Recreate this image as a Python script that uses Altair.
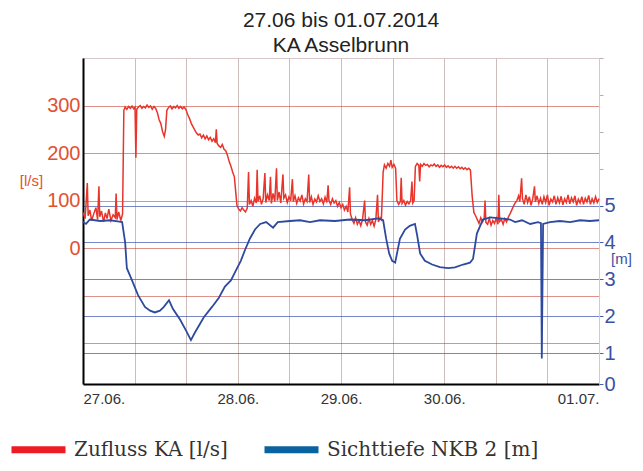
import altair as alt
import pandas as pd

title_lines = ["27.06 bis 01.07.2014", "KA Asselbrunn"]
series_names = ["Zufluss KA [l/s]", "Sichttiefe NKB 2 [m]"]
legend_colors = ["#ed1c24", "#0b62a0"]
red_color = "#e8342a"
blue_color = "#2d4a9e"

x_tick_hours = [0, 12, 24, 36, 48, 60, 72, 84, 96, 108, 120]
x_label_hours = [0, 36, 60, 84, 120]
x_label_text = ["27.06.", "28.06.", "29.06.", "30.06.", "01.07."]
left_ticks = [-200, -100, 0, 100, 200, 300]
right_ticks = [0.16, 1, 2, 3, 4, 5, 6, 7, 8, 9]

# Zufluss KA [l/s]  (hours since start, value)
red_hours = (
    [0, 0.5, 1.0, 1.2, 1.6, 2.0, 2.5, 3.0, 3.4, 3.7, 3.9, 4.3, 4.8, 5.2, 5.6, 6.0, 6.5, 7.0, 7.5, 7.7, 7.9, 8.3, 8.8, 9.2]
    + [9.5, 9.8, 10.2, 10.6, 11.0, 11.4, 11.8, 12.1, 12.3, 12.5, 12.9, 13.3, 13.7, 14.1, 14.5, 14.9, 15.3, 15.7, 16.1, 16.5, 16.9]
    + [17.3, 17.7, 18.1, 18.5, 18.9, 19.2, 19.5]
    + [19.9, 20.3, 20.7, 21.1, 21.5, 21.9, 22.3, 22.7, 23.1, 23.5, 23.9]
    + [24.4, 24.8, 25.2, 25.6, 26.0, 26.4, 26.8]
    + [27.2, 27.6, 28.0, 28.4, 28.8, 29.2, 29.6, 30.0, 30.4, 30.8, 31.0, 31.2]
    + [31.6, 32.0, 32.4, 32.8, 33.2]
    + [33.6, 34.0, 34.4, 34.8, 35.2, 35.5, 35.8]
    + [36.2, 36.6, 37.0, 37.4, 37.8, 38.2]
    + [38.5, 38.7, 39.1, 39.5, 39.9, 40.3, 40.5, 40.7, 41.1, 41.5, 41.9, 42.3, 42.5, 42.9, 43.3, 43.6, 43.8, 44.2, 44.6, 45.0, 45.2, 45.6]
    + [46.0, 46.5, 46.7, 47.1, 47.5, 47.9, 48.3, 48.7, 48.9, 49.3, 49.7, 50.1, 50.5, 50.9, 51.3, 51.7, 52.1, 52.5, 52.7, 53.1, 53.5, 53.9, 54.3, 54.7]
    + [55.1, 55.5, 55.9, 56.3, 56.7, 57.0, 57.2, 57.6, 58.0, 58.4, 58.8, 59.2, 59.6, 60.0, 60.4, 60.8, 61.2, 61.6, 62.0, 62.2]
    + [62.6, 63.0, 63.4, 63.8, 64.2, 64.6, 65.0, 65.5, 65.7, 66.1, 66.5, 66.9, 67.3, 67.7, 68.1, 68.5, 68.7, 69.1, 69.4]
    + [69.8, 70.1, 70.5, 70.9, 71.3, 71.6, 71.9, 72.3, 72.7]
    + [73.0, 73.4, 73.8, 74.0, 74.2, 74.6, 75.0, 75.4, 75.8, 76.2, 76.5, 76.7, 77.0]
    + [77.3, 77.7, 78.1, 78.3, 78.5, 78.9, 79.3, 79.7, 80.1, 80.5, 80.9, 81.3, 81.7, 82.1, 82.5, 82.9, 83.3, 83.7, 84.1, 84.5,
       84.9, 85.3, 85.7, 86.1, 86.5, 86.9, 87.3, 87.7, 88.1, 88.5, 88.9, 89.3, 89.7, 90.1]
    + [90.5, 90.9, 91.3]
    + [91.7, 92.1, 92.5, 92.9, 93.3, 93.5, 93.7, 94.1, 94.5, 94.9, 95.3, 95.7, 96.1, 96.5, 96.7, 96.9, 97.3, 97.7, 98.1, 98.5, 98.9]
    + [99.3, 99.7, 100.1, 100.5, 100.9, 101.3]
    + [101.6, 102.0, 102.2, 102.6, 103.0, 103.4, 103.8, 104.2, 104.6, 105.0, 105.2, 105.6, 106.0, 106.4, 106.8, 107.2,
       107.6, 108.0, 108.4, 108.8, 109.2, 109.6, 110.0, 110.4, 110.8, 111.2, 111.6, 112.0, 112.4, 112.8, 113.2, 113.6,
       114.0, 114.4, 114.8, 115.2, 115.6, 116.0, 116.4, 116.8, 117.2, 117.6, 118.0, 118.4, 118.8, 119.2, 119.6, 120.0]
)
red_flow = (
    [75, 62, 137, 68, 80, 58, 72, 85, 60, 130, 66, 78, 55, 74, 62, 82, 58, 70, 64, 115, 60, 76, 58, 72]
    + [290, 297, 292, 298, 294, 299, 293, 296, 190, 292, 297, 300, 294, 298, 295, 301, 296, 299, 292, 298, 294]
    + [285, 270, 262, 245, 235, 250, 290]
    + [296, 299, 293, 298, 295, 300, 294, 298, 293, 297, 292]
    + [280, 272, 262, 255, 248, 242, 238]
    + [240, 232, 238, 230, 236, 228, 233, 225, 230, 222, 250, 220]
    + [215, 212, 218, 208, 205]
    + [195, 182, 172, 160, 150, 120, 90]
    + [82, 78, 85, 80, 76, 84]
    + [160, 92, 100, 88, 105, 95, 165, 98, 110, 92, 104, 158, 96, 112, 100, 150, 94, 115, 98, 168, 100, 118]
    + [95, 155, 105, 112, 96, 108, 100, 145, 98, 110, 94, 106, 99, 112, 93, 104, 98, 155, 96, 108, 92, 103, 97, 110]
    + [98, 104, 93, 107, 96, 132, 100, 92, 104, 95, 100, 88, 96, 85, 92, 80, 88, 76, 128, 72]
    + [60, 52, 64, 50, 58, 47, 60, 100, 55, 48, 62, 50, 58, 46, 60, 112, 55, 64, 60]
    + [160, 175, 168, 178, 172, 185, 170, 176, 168]
    + [100, 92, 98, 148, 94, 100, 90, 98, 93, 100, 140, 95, 100]
    + [172, 178, 174, 140, 176, 172, 178, 174, 176, 171, 175, 173, 177, 172, 175, 170, 174, 171, 175, 170,
       173, 169, 172, 168, 172, 168, 171, 167, 170, 166, 169, 165, 168, 164]
    + [110, 75, 68]
    + [60, 52, 64, 55, 62, 100, 54, 50, 62, 48, 58, 52, 63, 50, 112, 56, 60, 50, 62, 55, 65]
    + [72, 80, 88, 95, 100, 110]
    + [98, 147, 104, 92, 112, 96, 108, 90, 104, 130, 97, 110, 94, 105, 92, 108,
       96, 112, 90, 103, 97, 110, 92, 106, 95, 109, 91, 104, 96, 112, 93, 106,
       97, 110, 90, 103, 95, 108, 92, 105, 97, 111, 92, 104, 95, 108, 96, 104]
)

# Sichttiefe NKB 2 [m]
blue_hours = [0, 0.7, 1.6, 4.0, 6.3, 8.1, 9.1, 9.8, 10.2, 11.4,
              12.8, 14.4, 15.6, 16.7, 17.9, 18.8, 20.0, 20.9, 22.6, 24.0,
              25.1, 26.0, 28.1, 30.0, 31.6, 33.0, 34.4, 35.6, 36.7, 37.7,
              38.8, 40.0, 41.2, 42.6, 44.2, 45.3, 48.1, 50.5, 52.8, 55.1,
              58.6, 62.1, 65.6, 68.6, 69.8, 70.5, 71.2, 71.9, 72.6, 73.7,
              74.9, 76.0, 77.2, 77.7, 78.4, 79.5, 81.2, 83.0, 84.9, 86.5,
              88.4, 90.0, 90.7, 91.6, 93.0, 94.7, 97.0, 99.3, 100.5, 102.1,
              104.0, 105.8, 106.5, 106.7, 107.0, 108.6, 110.9, 113.3, 115.6, 117.9,
              120]
blue_depth = [4.55, 4.5, 4.62, 4.58, 4.6, 4.57, 4.55, 4.0, 3.3, 2.97,
              2.57, 2.25, 2.15, 2.1, 2.15, 2.25, 2.43, 2.2, 1.9, 1.6,
              1.35, 1.55, 1.97, 2.25, 2.5, 2.8, 2.97, 3.25, 3.5, 3.8,
              4.1, 4.35, 4.5, 4.55, 4.4, 4.55, 4.58, 4.6, 4.55, 4.6,
              4.58, 4.62, 4.6, 4.65, 4.6, 4.1, 3.7, 3.5, 3.45, 4.1,
              4.35, 4.45, 4.5, 4.2, 3.7, 3.5, 3.4, 3.33, 3.3, 3.32,
              3.4, 3.45, 3.55, 4.24, 4.62, 4.68, 4.65, 4.62, 4.55, 4.6,
              4.5, 4.55, 4.52, 0.85, 4.5, 4.55, 4.58, 4.55, 4.6, 4.58,
              4.6]

red_df = pd.DataFrame({"h": red_hours, "v": red_flow})
blue_df = pd.DataFrame({"h": blue_hours, "v": blue_depth})
legend_df = pd.DataFrame({"series": series_names})

x_expr = " : ".join(
    f"datum.value == {h} ? '{t}'" for h, t in zip(x_label_hours, x_label_text)
) + " : ''"

x_enc = alt.X(
    "h:Q",
    scale=alt.Scale(domain=[0, 120], nice=False, zero=False),
    axis=alt.Axis(
        orient="bottom", values=x_tick_hours, labelExpr=x_expr, title=None,
        ticks=False, grid=True, gridColor="#cdbcbc", gridWidth=1,
        domainColor="#000000", domainWidth=2,
        labelFont="Liberation Sans", labelFontSize=15, labelColor="#333333",
        labelPadding=7, labelFlush=True,
    ),
)

red = alt.Chart(red_df).mark_line(color=red_color, strokeWidth=1.5).encode(
    x=x_enc,
    y=alt.Y(
        "v:Q",
        scale=alt.Scale(domain=[-286, 400], nice=False, zero=False),
        axis=alt.Axis(
            orient="left", values=left_ticks,
            labelExpr="datum.value < 0 ? '' : datum.label",
            title="[l/s]", titleAngle=0, titleX=-52, titleY=122,
            titleAlign="center", titleBaseline="middle",
            titleFont="Liberation Sans", titleFontSize=15, titleFontWeight="normal",
            titleColor="#e2512f",
            ticks=False, grid=True, gridColor="#c0392b", gridOpacity=0.55, gridWidth=1.2,
            domainColor="#000000", domainWidth=2,
            labelFont="Liberation Sans", labelFontSize=20, labelColor="#e2512f",
            labelPadding=3,
        ),
    ),
)

blue = alt.Chart(blue_df).mark_line(color=blue_color, strokeWidth=1.8).encode(
    x=alt.X("h:Q"),
    y=alt.Y(
        "v:Q",
        scale=alt.Scale(domain=[0.16, 9.0], nice=False, zero=False),
        axis=alt.Axis(
            orient="right", values=right_ticks,
            labelExpr="datum.value < 0.5 ? '0' : (datum.value > 5.5 ? '' : format(datum.value, 'd'))",
            title="[m]", titleAngle=0, titleX=22, titleY=200,
            titleAlign="center", titleBaseline="middle",
            titleFont="Liberation Sans", titleFontSize=15, titleFontWeight="normal",
            titleColor="#3b51a3",
            tickSize=4,
            tickColor={"condition": {"test": "datum.value > 5.5", "value": "#b8b0b0"}, "value": "#4a5db0"},
            grid=True, gridColor="#4a5db0", gridWidth=1.1,
            gridOpacity={"condition": {"test": "datum.value > 0.5 && datum.value < 5.5", "value": 0.75}, "value": 0},
            domainColor="#d6c8c8", domainWidth=1,
            labelFont="Liberation Sans", labelFontSize=20, labelColor="#3b51a3",
            labelPadding=1,
        ),
    ),
)

legend_layer = alt.Chart(legend_df).mark_point(opacity=0).encode(
    x=alt.value(0),
    y=alt.value(0),
    color=alt.Color(
        "series:N",
        scale=alt.Scale(domain=series_names, range=legend_colors),
        legend=alt.Legend(
            title=None, orient="none", legendX=-75, legendY=361,
            direction="horizontal", symbolType="stroke", symbolSize=2916,
            symbolStrokeWidth=7, symbolOpacity=1,
            labelFont="DejaVu Serif", labelFontSize=20, labelColor="#333333",
            labelOffset=5, columnPadding=22, padding=0, labelLimit=400,
        ),
    ),
)

chart = (
    alt.layer(red, blue, legend_layer)
    .resolve_scale(y="independent")
    .properties(
        width=516,
        height=326,
        title=alt.Title(
            text=title_lines, font="Liberation Sans", fontSize=21, fontWeight="normal",
            color="#222222", anchor="middle", offset=-1, lineHeight=25,
        ),
        autosize=alt.AutoSizeParams(type="none"),
        padding={"left": 75, "top": 50, "right": 36, "bottom": 79},
    )
    .configure_view(stroke="#d6c8c8", strokeWidth=1)
)

chart.save("out.html", embed_options={"renderer": "svg", "actions": False})
